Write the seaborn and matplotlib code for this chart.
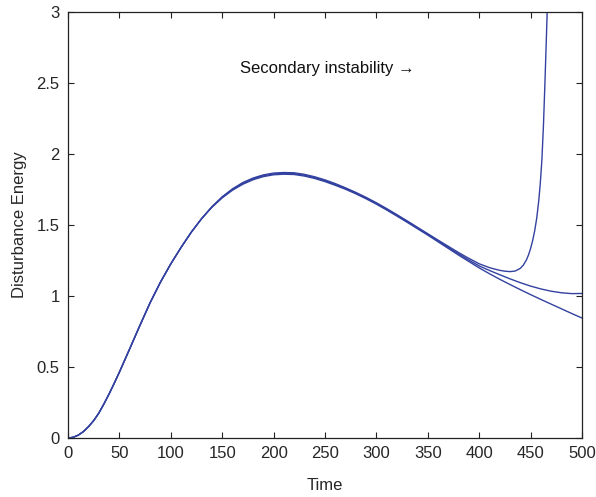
import seaborn as sns
import matplotlib.pyplot as plt

# time grid shared by the three runs up to t = 400
time_early = [0, 5, 10, 15, 20, 25, 30, 35, 40, 45, 50, 60, 70, 80, 90, 100, 110, 120,
              130, 140, 150, 160, 170, 180, 190, 200, 210, 220, 230, 240, 250, 260,
              270, 280, 290, 300, 310, 320, 330, 340, 350, 360, 370, 380, 390, 400]

energy_a_early = [0, 0.005, 0.02, 0.045, 0.08, 0.122, 0.175, 0.24, 0.31, 0.385, 0.463,
                  0.627, 0.793, 0.954, 1.098, 1.226, 1.342, 1.45, 1.545, 1.629, 1.699,
                  1.755, 1.799, 1.831, 1.853, 1.866, 1.87, 1.868, 1.857, 1.84, 1.818,
                  1.792, 1.762, 1.73, 1.695, 1.657, 1.616, 1.573, 1.529, 1.484, 1.439,
                  1.394, 1.35, 1.306, 1.265, 1.227]
energy_b_early = [0, 0.005, 0.02, 0.045, 0.08, 0.122, 0.175, 0.24, 0.31, 0.385, 0.463,
                  0.627, 0.793, 0.954, 1.098, 1.226, 1.342, 1.45, 1.545, 1.627, 1.695,
                  1.75, 1.793, 1.825, 1.847, 1.86, 1.864, 1.862, 1.851, 1.834, 1.812,
                  1.786, 1.757, 1.725, 1.69, 1.652, 1.611, 1.568, 1.524, 1.479, 1.434,
                  1.388, 1.342, 1.297, 1.253, 1.212]
energy_c_early = [0, 0.005, 0.02, 0.045, 0.08, 0.122, 0.175, 0.24, 0.31, 0.385, 0.463,
                  0.627, 0.793, 0.954, 1.098, 1.226, 1.342, 1.45, 1.545, 1.625, 1.691,
                  1.745, 1.787, 1.819, 1.841, 1.854, 1.858, 1.856, 1.845, 1.828, 1.806,
                  1.78, 1.752, 1.72, 1.685, 1.647, 1.606, 1.563, 1.519, 1.474, 1.429,
                  1.382, 1.335, 1.288, 1.243, 1.198]

# tails after the runs separate
time_a_tail = [410, 415, 420, 425, 430, 435, 440, 443, 446, 448, 450, 452, 454, 456,
               458, 459.5, 461, 462.5, 464, 465.5, 467, 468]
energy_a_tail = [1.2, 1.19, 1.181, 1.175, 1.172, 1.176, 1.195, 1.218, 1.255, 1.29,
                 1.335, 1.39, 1.46, 1.55, 1.675, 1.8, 1.96, 2.2, 2.51, 2.85, 3.21, 3.45]

time_bc_tail = [410, 420, 430, 440, 450, 460, 470, 480, 490, 500]
energy_b_tail = [1.18, 1.15, 1.121, 1.094, 1.07, 1.05, 1.034, 1.023, 1.017, 1.018]
energy_c_tail = [1.157, 1.118, 1.081, 1.045, 1.01, 0.976, 0.943, 0.91, 0.877, 0.845]

x_ticks = [0, 50, 100, 150, 200, 250, 300, 350, 400, 450, 500]
y_ticks = [0, 0.5, 1, 1.5, 2, 2.5, 3]
y_tick_labels = ['0', '0.5', '1', '1.5', '2', '2.5', '3']

line_color = '#3341a0'

sns.set_style('ticks')
plt.rcParams['font.family'] = ['Liberation Sans', 'DejaVu Sans']
plt.rcParams['xtick.direction'] = 'in'
plt.rcParams['ytick.direction'] = 'in'

fig = plt.figure(figsize=(5.96, 4.97), dpi=100)
ax = fig.add_axes([0.114, 0.1187, 0.8625, 0.857])

runs = [(time_early + time_a_tail, energy_a_early + energy_a_tail),
        (time_early + time_bc_tail, energy_b_early + energy_b_tail),
        (time_early + time_bc_tail, energy_c_early + energy_c_tail)]
for t, e in runs:
    sns.lineplot(x=t, y=e, ax=ax, color=line_color, linewidth=1.0,
                 sort=False, estimator=None)

ax.set_xlim(0, 500)
ax.set_ylim(0, 3)
ax.set_xticks(x_ticks)
ax.set_yticks(y_ticks)
ax.set_yticklabels(y_tick_labels)
ax.tick_params(axis='both', which='both', top=True, right=True, length=4,
               width=0.8, color='#222222', labelsize=12, pad=6)
for s in ax.spines.values():
    s.set_linewidth(0.9)
    s.set_color('#222222')

ax.set_xlabel('Time', fontsize=12, labelpad=12)
ax.set_ylabel('Disturbance Energy', fontsize=12, labelpad=7)

ax.text(167, 2.606, 'Secondary instability \u2192', fontsize=12, va='center',
        ha='left', color='#111111')

fig.savefig('out.png', dpi=100)
